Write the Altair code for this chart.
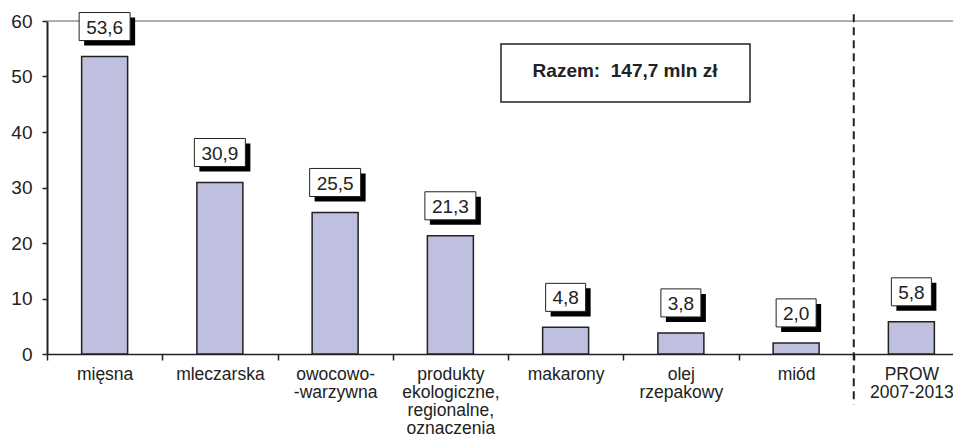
import altair as alt
import pandas as pd

categories = ["mięsna", "mleczarska", "owocowo-|-warzywna",
              "produkty|ekologiczne,|regionalne,|oznaczenia",
              "makarony", "olej|rzepakowy", "miód", "PROW|2007-2013"]
values = [53.6, 30.9, 25.5, 21.3, 4.8, 3.8, 2.0, 5.8]
labels = ["53,6", "30,9", "25,5", "21,3", "4,8", "3,8", "2,0", "5,8"]
total_text = "Razem:\u00a0\u00a0147,7 mln zł"
divider_category = "PROW|2007-2013"

df = pd.DataFrame({"cat": categories, "val": values, "lab": labels})

FONT = "Liberation Sans"
DARK = "#222222"

xenc = alt.X("cat:N", sort=categories,
             scale=alt.Scale(paddingInner=0, paddingOuter=0, range=[0, 922]),
             axis=alt.Axis(title=None, labelAngle=0, tickBand="extent",
                           labelExpr="split(datum.label, '|')",
                           labelAlign="center",
                           labelFont=FONT, labelFontSize=17.5, labelColor=DARK,
                           labelLineHeight=18.3, labelPadding=5,
                           domainColor=DARK, domainWidth=1.5,
                           tickColor=DARK, tickWidth=1.5, tickSize=6,
                           labelBaseline="top"))

base = alt.Chart(df)

bars = base.mark_bar(width=46, color="#BFBFDF", stroke=DARK, strokeWidth=1.5).encode(
    x=xenc,
    y=alt.Y("val:Q", scale=alt.Scale(domain=[0, 60], nice=False),
            axis=alt.Axis(title=None, values=[0, 10, 20, 30, 40, 50, 60], grid=False,
                          labelFont=FONT, labelFontSize=19, labelColor=DARK,
                          labelPadding=10, tickSize=5, tickColor=DARK, tickWidth=1.5,
                          domainColor=DARK, domainWidth=2)),
)

boxes = base.transform_calculate(
    y0="datum.val + 2.88", y1="datum.val + 7.93",
    w="length(datum.lab) > 3 ? 51 : 40"
)

shadow = boxes.mark_bar(color="black", xOffset=5, x2Offset=5, yOffset=5, y2Offset=5).encode(
    x=alt.X("cat:N", sort=categories),
    y="y0:Q", y2="y1:Q",
    size=alt.Size("w:Q", scale=None, legend=None),
)
box = boxes.mark_bar(color="white", stroke=DARK, strokeWidth=1).encode(
    x=alt.X("cat:N", sort=categories),
    y="y0:Q", y2="y1:Q",
    size=alt.Size("w:Q", scale=None, legend=None),
)
text = boxes.transform_calculate(yc="datum.val + 5.4").mark_text(
    font=FONT, fontSize=19, color=DARK, baseline="middle", dy=1
).encode(
    x=alt.X("cat:N", sort=categories),
    y="yc:Q",
    text="lab:N",
)

top_line = alt.Chart(pd.DataFrame({"v": [60]})).mark_rule(color="#999999", strokeWidth=1.5).encode(
    y="v:Q", x=alt.value(0), x2=alt.value(922)
)

divider = alt.Chart(pd.DataFrame({"cat": [divider_category], "y1": [61.2], "y2": [-9.1]})).mark_rule(
    color=DARK, strokeWidth=2, strokeDash=[8, 5]
).encode(
    x=alt.X("cat:N", sort=categories, bandPosition=0),
    y="y1:Q", y2="y2:Q",
)

total_box = alt.Chart(pd.DataFrame({"t": [total_text]})).mark_rect(
    fill="white", stroke=DARK, strokeWidth=1.5
).encode(x=alt.value(454), x2=alt.value(703), y=alt.value(23), y2=alt.value(81))

total_label = alt.Chart(pd.DataFrame({"t": [total_text]})).mark_text(
    font=FONT, fontSize=19, fontWeight="bold", color=DARK, baseline="middle"
).encode(x=alt.value(578), y=alt.value(50), text="t:N")

chart = alt.layer(top_line, divider, bars, shadow, box, text, total_box, total_label).properties(
    width=906, height=333,
    padding={"left": 39, "top": 13, "right": 0, "bottom": 84},
    autosize=alt.AutoSizeParams(type="none"),
).configure_view(stroke=None).configure(background="white")

chart.save("out.html", embed_options={"renderer": "svg", "actions": False})
